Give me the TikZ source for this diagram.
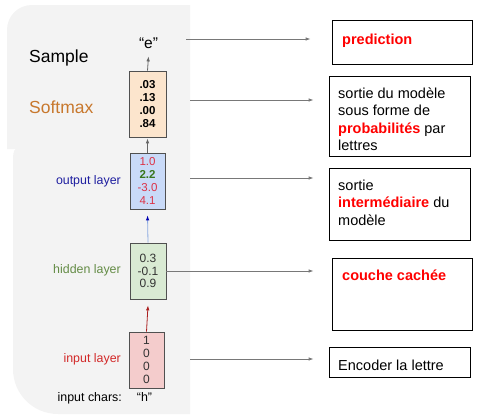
\documentclass[tikz,border=0pt]{standalone}
\usepackage{fontspec}
\setmainfont{Liberation Sans}
\usetikzlibrary{arrows.meta}
\definecolor{panel}{HTML}{F3F3F3}
\definecolor{softfill}{HTML}{FCE5CD}
\definecolor{outfill}{HTML}{C9DAF8}
\definecolor{hidfill}{HTML}{D9EAD3}
\definecolor{inpfill}{HTML}{F4CCCC}
\definecolor{boxline}{RGB}{80,80,80}
\definecolor{softc}{RGB}{200,120,45}
\definecolor{outc}{RGB}{30,30,160}
\definecolor{hidc}{RGB}{100,140,70}
\definecolor{inpc}{RGB}{210,40,40}
\definecolor{numred}{RGB}{220,50,70}
\definecolor{numgreen}{RGB}{56,118,29}
\definecolor{predred}{RGB}{255,0,0}
\definecolor{conngray}{RGB}{120,120,120}
\definecolor{bluearrow}{RGB}{140,170,225}
\definecolor{redarrow}{RGB}{170,30,30}
\begin{document}
\begin{tikzpicture}[x=1pt,y=-1pt,
  layerbox/.style={draw=boxline, line width=0.7pt, inner sep=0pt, align=center},
  rbox/.style={draw=black, line width=0.8pt, inner sep=0pt},
  rtext/.style={anchor=north west, inner sep=0pt, align=left, font=\fontsize{14.5}{17.4}\selectfont},
  lab/.style={inner sep=0pt, font=\fontsize{12.4}{14}\selectfont},
  conn/.style={draw=conngray, line width=0.8pt, -{Latex[length=5pt,width=3.5pt]}},
  uparrow/.style={line width=0.8pt, -{Latex[length=5pt,width=3.5pt]}}
]
\useasboundingbox (0,0) rectangle (479,415);
% background panels
\fill[panel] (7,149) -- (7,30) .. controls (7,16) and (18,5) .. (32,5) -- (190,5) -- (190,149) -- cycle;
\fill[panel] (20,147) -- (190,147) -- (190,414) -- (58,414) .. controls (33,414) and (13,394) .. (13,369) -- (13,158) .. controls (13,151) and (15,147) .. (20,147) -- cycle;

% layer boxes
\node[layerbox, fill=softfill, minimum width=37pt, minimum height=66pt, font=\fontsize{11.5}{12.7}\selectfont\bfseries] (soft) at (147.5,104) {.03\\.13\\.00\\.84};
\node[layerbox, fill=outfill, minimum width=35pt, minimum height=56pt, font=\fontsize{11.5}{12.7}\selectfont] (out) at (147.5,181) {\textcolor{numred}{1.0}\\\textcolor{numgreen}{\bfseries 2.2}\\\textcolor{numred}{-3.0}\\\textcolor{numred}{4.1}};
\node[layerbox, fill=hidfill, minimum width=36pt, minimum height=56pt, text={black!80}, font=\fontsize{12}{12.8}\selectfont] (hid) at (148,271) {0.3\\-0.1\\0.9};
\node[layerbox, fill=inpfill, minimum width=35pt, minimum height=56pt, text={black!80}, font=\fontsize{12}{12.8}\selectfont] (inp) at (146.5,360) {1\\0\\0\\0};
\node[inner sep=0pt, anchor=base, font=\fontsize{15.5}{18}\selectfont] (e) at (148.5,48) {“e”};

% vertical arrows
\draw[uparrow, draw=black!60] (soft.north) -- ([yshift=-8pt]e.south);
\draw[uparrow, draw=black!60] (out.north) -- ([yshift=-1pt]soft.south);
\draw[uparrow, draw=bluearrow, -{Latex[length=5pt,width=3.5pt,color=blue!70!black]}] (hid.north) -- ([yshift=-6pt]out.south);
\draw[uparrow, draw=redarrow] (inp.north) -- ([yshift=-6pt]hid.south);

% left labels
\node[anchor=base west, inner sep=0pt, font=\fontsize{17.5}{20}\selectfont] (lsample) at (29,62) {Sample};
\node[anchor=base west, inner sep=0pt, text=softc, font=\fontsize{17.5}{20}\selectfont] (lsoft) at (29,113.5) {Softmax};
\node[lab, anchor=base east, text=outc] (lout) at (121,184) {output layer};
\node[lab, anchor=base east, text=hidc] (lhid) at (121,273) {hidden layer};
\node[lab, anchor=base east, text=inpc] (linp) at (121,362) {input layer};
\node[lab, anchor=base east] (lchars) at (122,401) {input chars:};
\node[lab, anchor=base] (lh) at (144.5,401) {“h”};

% right boxes
\node[rbox, minimum width=140pt, minimum height=44pt] (b1) at (402,42) {};
\node[rbox, minimum width=141pt, minimum height=80pt] (b2) at (399.5,116) {};
\node[rbox, minimum width=141pt, minimum height=72pt] (b3) at (399.5,204) {};
\node[rbox, minimum width=140pt, minimum height=72pt] (b4) at (402,294) {};
\node[rbox, minimum width=141pt, minimum height=30pt] (b5) at (399.5,362) {};

\node[rtext] (t1) at (342,33.6) {\textcolor{predred}{\bfseries prediction}};
\node[rtext] (t2) at (338,87.4) {sortie du modèle\\sous forme de\\\textcolor{predred}{\bfseries probabilités} par\\lettres};
\node[rtext] (t3) at (338,179.6) {sortie\\\textcolor{predred}{\bfseries intermédiaire} du\\modèle};
\node[rtext] (t4) at (342,269.8) {\textcolor{predred}{\bfseries couche cachée}};
\node[rtext] (t5) at (338,359.6) {Encoder la lettre};

% connectors
\coordinate (c1) at (186,39);
\coordinate (c2) at (190,100);
\coordinate (c3) at (190,178);
\coordinate (c5) at (190,359);
\draw[conn, shorten >=21pt] (c1) -- (c1 -| b1.west);
\draw[conn, shorten >=15pt] (c2) -- (c2 -| b2.west);
\draw[conn, shorten >=15pt] (c3) -- (c3 -| b3.west);
\draw[conn, shorten >=18pt] (hid.east) -- (hid.east -| b4.west);
\draw[conn, shorten >=15pt] (c5) -- (c5 -| b5.west);
\end{tikzpicture}
\end{document}
